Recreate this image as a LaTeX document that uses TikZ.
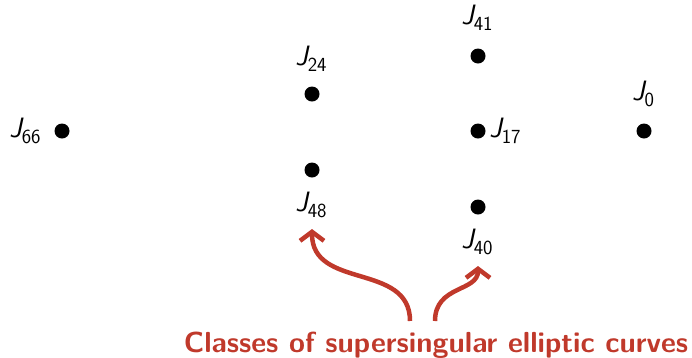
\documentclass[tikz,border=0pt]{standalone}
\usetikzlibrary{arrows.meta}
\definecolor{accent}{RGB}{192,57,43}
\newcommand{\jlab}[1]{{\sffamily\slshape J}\raisebox{-0.2em}{\fontsize{20}{22}\selectfont\sffamily #1}}
\begin{document}
\begin{tikzpicture}[x=1pt,y=-1pt,
  pt/.style={circle,fill=black,inner sep=0pt,minimum size=15pt},
  lab/.style={font=\fontsize{28}{32}\selectfont,inner sep=1pt},
  arr/.style={draw=accent,line width=4.5pt,-{Straight Barb[length=9pt,width=24pt,line width=4.5pt]}}]
\useasboundingbox (0,0) rectangle (692,357);
\node[pt] (p66) at (62,131) {};
\node[pt] (p24) at (312,94) {};
\node[pt] (p48) at (312,170) {};
\node[pt] (p41) at (478,56) {};
\node[pt] (p17) at (478,131) {};
\node[pt] (p40) at (478,207) {};
\node[pt] (p0) at (644,131) {};
\node[lab] (l66) at (25,131) {\jlab{66}};
\node[lab] (l24) at (311,59) {\jlab{24}};
\node[lab] (l48) at (311,205) {\jlab{48}};
\node[lab] (l41) at (477,18) {\jlab{41}};
\node[lab] (l17) at (505,131) {\jlab{17}};
\node[lab] (l40) at (477,242) {\jlab{40}};
\node[lab] (l0) at (643,94) {\jlab{0}};
\node[font=\fontsize{29}{34}\selectfont\sffamily\bfseries,text=accent,inner sep=0pt,anchor=base] (cap) at (436,352) {Classes of supersingular elliptic curves};
\coordinate (s1) at (410,321);
\coordinate (s2) at (435,321);
\coordinate (t1) at (312,229);
\coordinate (t2) at (478,266);
\draw[arr] (s1) .. controls (410,262) and (312,290) .. (t1);
\draw[arr] (s2) .. controls (435,285) and (478,292) .. (t2);
\end{tikzpicture}
\end{document}
